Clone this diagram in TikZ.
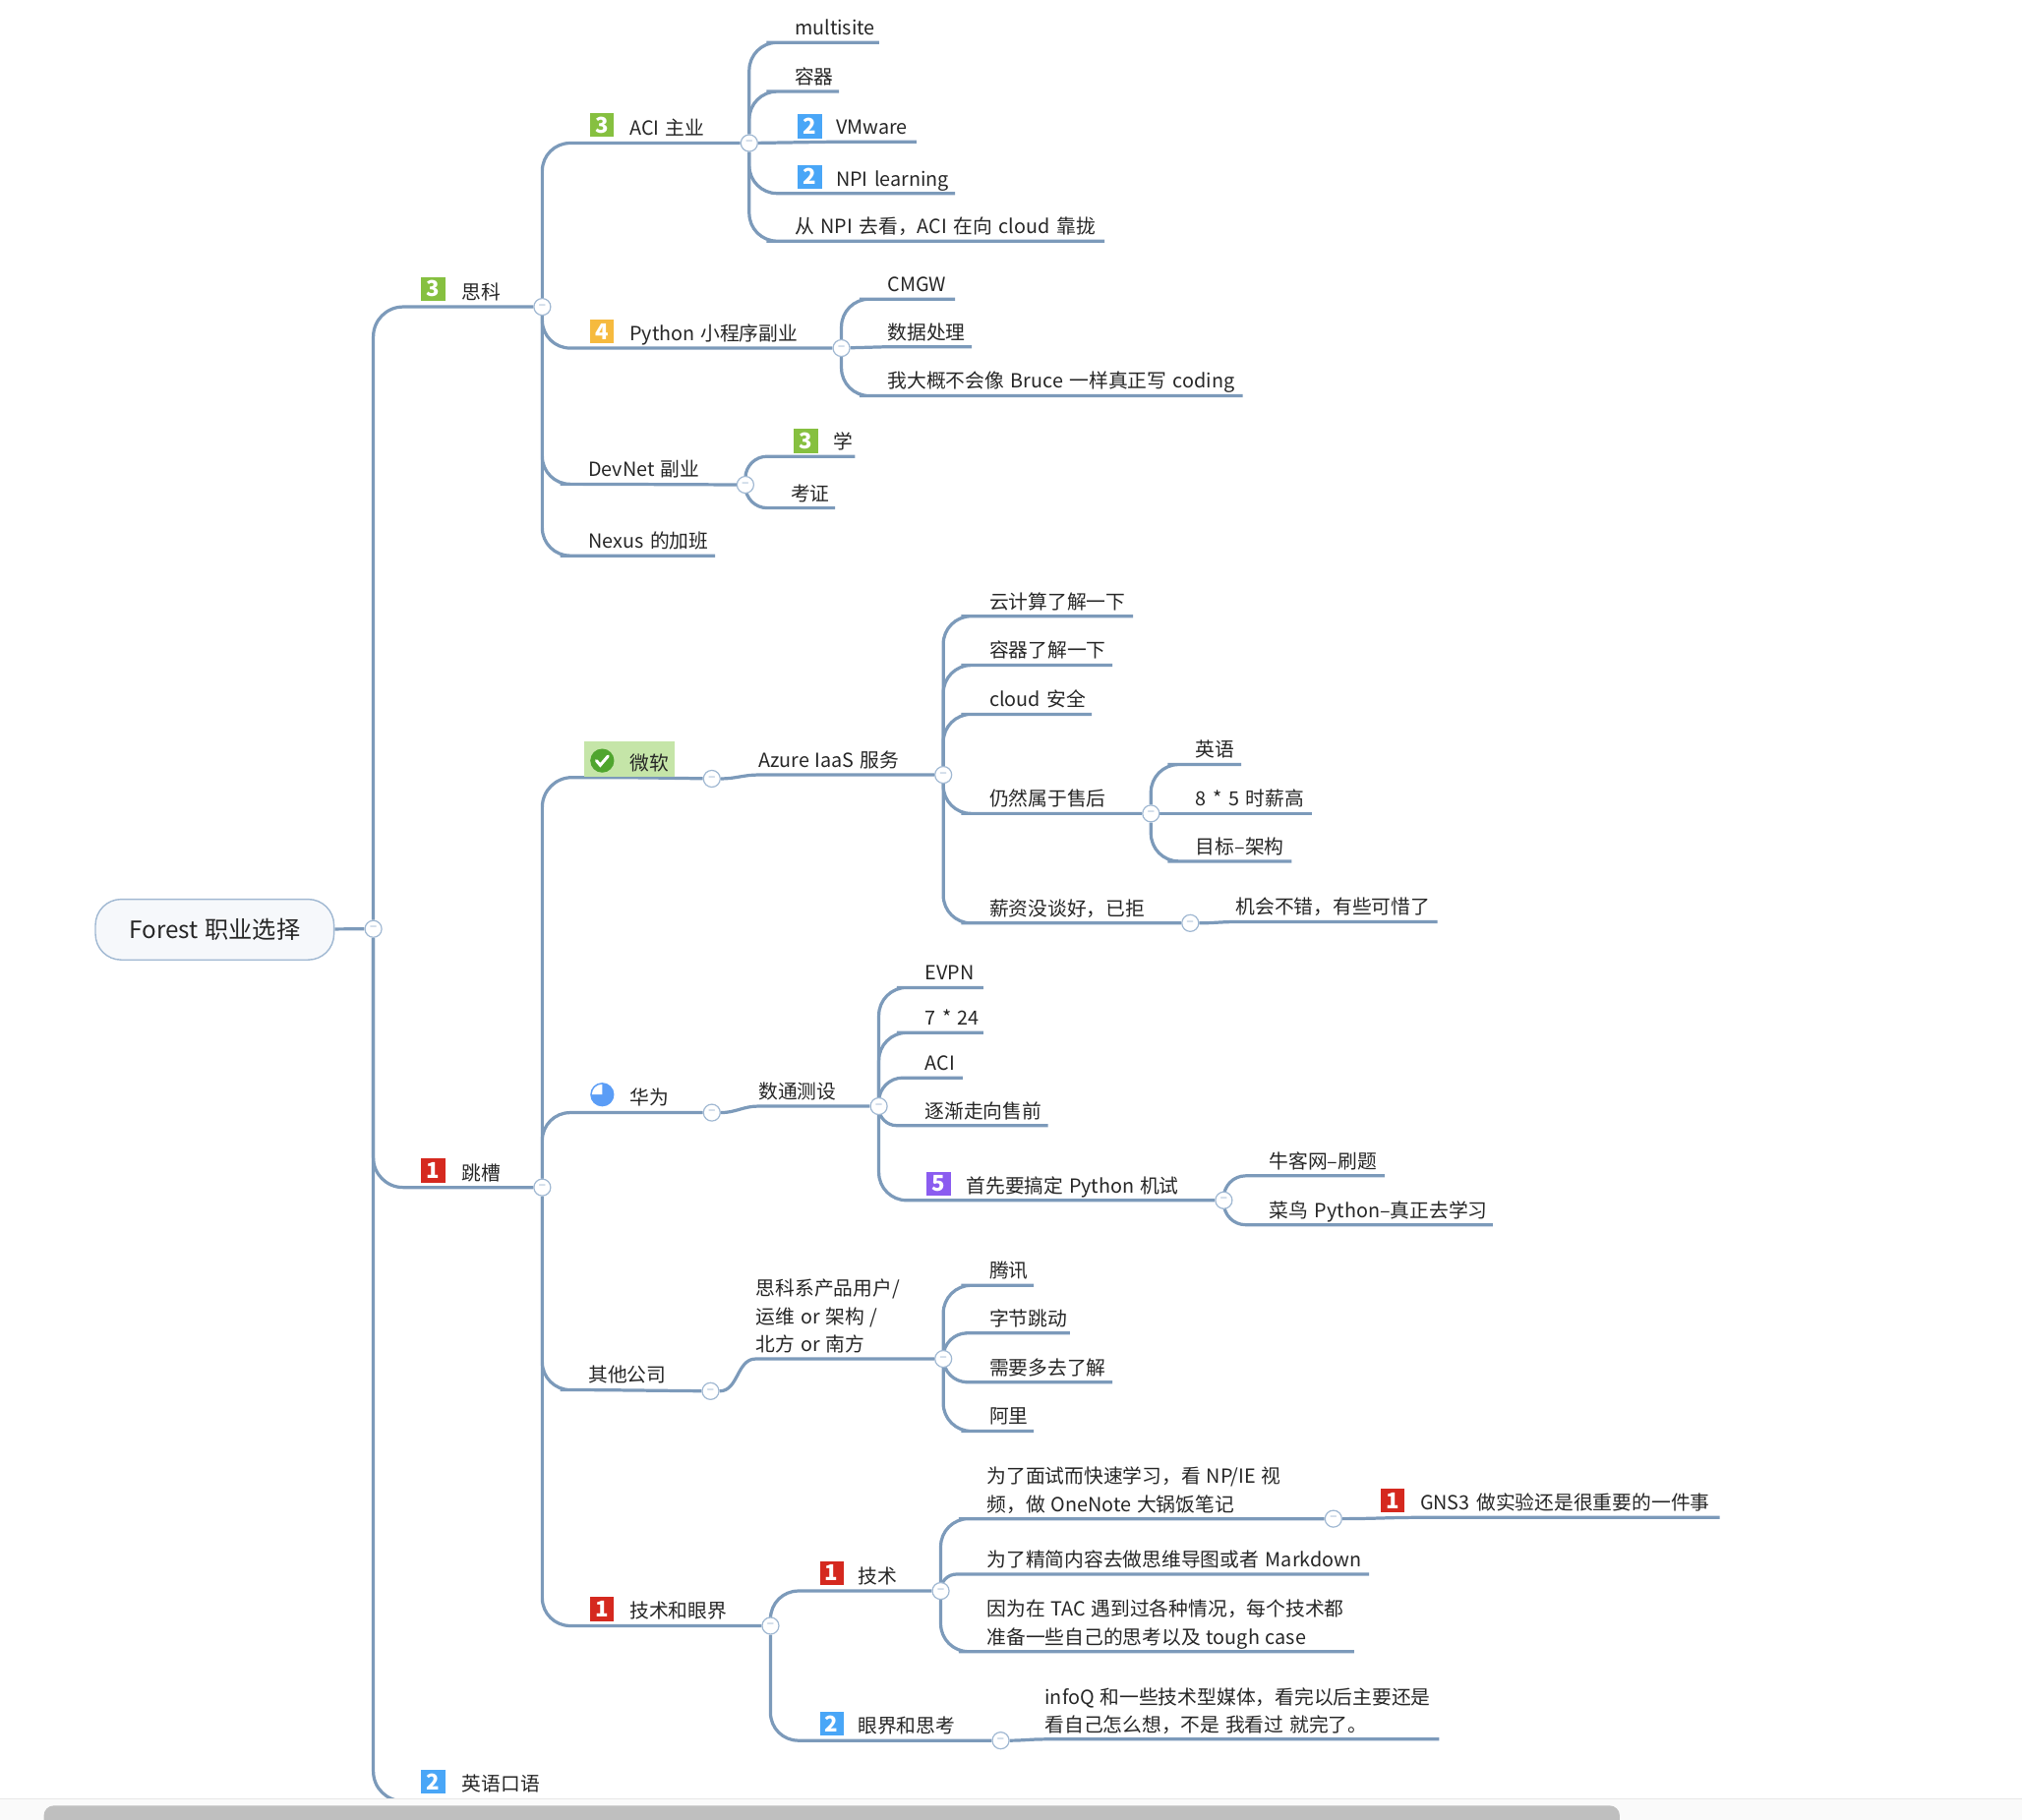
\documentclass[tikz,border=0pt]{standalone}
\usepackage{fontspec}
\setmainfont[WordSpace=1.3]{Noto Sans CJK SC}
\usepackage{xcolor}
\usetikzlibrary{positioning,backgrounds}
\definecolor{linecol}{HTML}{7C9ABA}
\definecolor{hubcol}{HTML}{A0B8D2}
\definecolor{rootfill}{HTML}{F6F8FB}
\definecolor{txtcol}{HTML}{262626}
\definecolor{prioone}{HTML}{D5291F}
\definecolor{priotwo}{HTML}{49A6F7}
\definecolor{priothree}{HTML}{86C040}
\definecolor{priofour}{HTML}{F6BA3E}
\definecolor{priofive}{HTML}{8B5CF0}
\definecolor{msfill}{HTML}{C5E5A8}
\definecolor{mscheck}{HTML}{4FA52E}
\definecolor{hwpie}{HTML}{5B9DF6}
\def\u{0.65pt}

\begin{document}
\begin{tikzpicture}[
    x=0.65pt, y=-0.65pt,
    root/.style={rectangle, draw=hubcol, line width=0.7pt, fill=rootfill, rounded corners=13pt, minimum width=185*\u, minimum height=47*\u, font=\fontsize{12}{14}\selectfont, text=txtcol},
    hub/.style={circle, draw=hubcol, line width=0.6pt, fill=white, minimum size=13*\u, inner sep=0pt, font=\fontsize{7}{7}\selectfont, text=hubcol},
    topic/.style={anchor=south west, inner sep=0pt, align=left, text depth=5.5*\u, font=\fontsize{9.8}{14}\selectfont, text=txtcol},
    prio/.style={rectangle, minimum size=18.5*\u, inner sep=0pt, text=white, font=\fontsize{11}{11}\selectfont\bfseries},
    branch/.style={draw=linecol, line width=1.6pt, rounded corners=14pt},
    mainline/.style={draw=linecol, line width=1.6pt}
]
    \useasboundingbox (0,0) rectangle (1568,1411);

    % 根节点
    \node[root] (root) at (166.5,721) {Forest 职业选择};

    % 折叠按钮
    \node[hub] (hubroot) at (289.5,720.5) {–};
    \node[hub] (hubcisco) at (420.5,238) {–};
    \node[hub] (hubaci) at (581,111) {–};
    \node[hub] (hubpython) at (652.5,270) {–};
    \node[hub] (hubdevnet) at (578,376) {–};
    \node[hub] (hubjump) at (420.5,921) {–};
    \node[hub] (hubms) at (552,604) {–};
    \node[hub] (hubhw) at (552,863) {–};
    \node[hub] (hubother) at (551,1079) {–};
    \node[hub] (hubtech) at (597.5,1261) {–};
    \node[hub] (hubazure) at (731.5,601) {–};
    \node[hub] (hubsales) at (892.5,631) {–};
    \node[hub] (hubsalary) at (923,716) {–};
    \node[hub] (hubdc) at (681.5,858) {–};
    \node[hub] (hubexam) at (949,931) {–};
    \node[hub] (hubuser) at (731.5,1054) {–};
    \node[hub] (hubskill) at (729.5,1234) {–};
    \node[hub] (hubview) at (776,1350) {–};
    \node[hub] (hubnote) at (1034,1178) {–};

    % 微软底色
    \fill[msfill] (453,575) rectangle (523,602.5);

    % 第一层
    \node[topic] (cisco) at (358,238) {思科};
    \node[topic] (jump) at (358,921) {跳槽};
    \node[topic, text width=70*\u] (english) at (358,1395) {英语口语};

    % 思科
    \node[topic] (aci) at (488,111) {ACI 主业};
    \node[topic] (python) at (488,270) {Python 小程序副业};
    \node[topic] (devnet) at (456,375.5) {DevNet 副业};
    \node[topic, text width=98*\u] (nexus) at (456,431) {Nexus 的加班};
    \node[topic, text width=65*\u] (multisite) at (616,33) {multisite};
    \node[topic, text width=34*\u] (container) at (616,71) {容器};
    \node[topic, text width=62*\u] (vmware) at (648,110) {VMware};
    \node[topic, text width=92*\u] (npi) at (648,150) {NPI learning};
    \node[topic, text width=240*\u] (cloud) at (616,187) {从 NPI 去看，ACI 在向 cloud 靠拢};
    \node[topic, text width=52*\u] (cmgw) at (688,232) {CMGW};
    \node[topic, text width=65*\u] (data) at (688,269) {数据处理};
    \node[topic, text width=275*\u] (bruce) at (688,307) {我大概不会像 Bruce 一样真正写 coding};
    \node[topic, text width=16*\u] (learn) at (646,354) {学};
    \node[topic, text width=34*\u] (cert) at (613,394) {考证};

    % 微软
    \node[topic] (ms) at (488,603) {微软};
    \node[topic] (azure) at (588,601) {Azure IaaS 服务};
    \node[topic, text width=111*\u] (cc) at (767,478) {云计算了解一下};
    \node[topic, text width=95*\u] (cont) at (767,516) {容器了解一下};
    \node[topic, text width=79*\u] (safe) at (767,554) {cloud 安全};
    \node[topic] (sales) at (767,631) {仍然属于售后};
    \node[topic] (salary) at (767,716) {薪资没谈好，已拒};
    \node[topic, text width=35*\u] (eng) at (927,593) {英语};
    \node[topic, text width=90*\u] (pay) at (927,631) {8 * 5 时薪高};
    \node[topic, text width=74*\u] (arch) at (927,668) {目标–架构};
    \node[topic, text width=156*\u] (pity) at (958,715) {机会不错，有些可惜了};

    % 华为
    \node[topic] (hw) at (488,863) {华为};
    \node[topic] (dc) at (588,858) {数通测设};
    \node[topic, text width=45*\u] (evpn) at (717,766) {EVPN};
    \node[topic, text width=45*\u] (shift) at (717,801) {7 * 24};
    \node[topic, text width=29*\u] (acib) at (717,836) {ACI};
    \node[topic, text width=95*\u] (presale) at (717,873) {逐渐走向售前};
    \node[topic] (exam) at (749,931) {首先要搞定 Python 机试};
    \node[topic, text width=89*\u] (nowcoder) at (984,912) {牛客网–刷题};
    \node[topic, text width=173*\u] (runoob) at (984,950) {菜鸟 Python–真正去学习};

    % 其他公司
    \node[topic] (other) at (456,1078) {其他公司};
    \node[topic] (user) at (586,1054) {思科系产品用户/\\运维 or 架构 /\\北方 or 南方};
    \node[topic, text width=34*\u] (tencent) at (767,997) {腾讯};
    \node[topic, text width=62*\u] (bytedance) at (767,1034) {字节跳动};
    \node[topic, text width=95*\u] (more) at (767,1072) {需要多去了解};
    \node[topic, text width=34*\u] (ali) at (767,1110) {阿里};

    % 技术和眼界
    \node[topic] (tech) at (488,1261) {技术和眼界};
    \node[topic] (skill) at (665,1234) {技术};
    \node[topic] (view) at (665,1350) {眼界和思考};
    \node[topic] (note) at (765,1178) {为了面试而快速学习，看 NP/IE 视\\频，做 OneNote 大锅饭笔记};
    \node[topic, text width=296*\u] (mind) at (765,1221) {为了精简内容去做思维导图或者 Markdown};
    \node[topic] (tac) at (765,1281) {因为在 TAC 遇到过各种情况，每个技术都\\准备一些自己的思考以及 tough case};
    \node[topic, text width=232*\u] (gns) at (1101,1177) {GNS3 做实验还是很重要的一件事};
    \node[topic] (infoq) at (810,1349) {infoQ 和一些技术型媒体，看完以后主要还是\\看自己怎么想，不是 我看过 就完了。};
    \coordinate (tacend) at (1050,1281);
    \coordinate (infoqend) at (1116,1349);

    % 优先级图标
    \node[prio, fill=priothree] (pcisco) at (336,224) {3};
    \node[prio, fill=prioone] (pjump) at (336,908) {1};
    \node[prio, fill=priotwo] (penglish) at (336,1382) {2};
    \node[prio, fill=priothree] (paci) at (467,97) {3};
    \node[prio, fill=priofour] (ppython) at (467,257) {4};
    \node[prio, fill=priotwo] (pvmware) at (628,98) {2};
    \node[prio, fill=priotwo] (pnpi) at (628,137) {2};
    \node[prio, fill=priothree] (plearn) at (625,342) {3};
    \node[prio, fill=priofive] (pexam) at (728,918) {5};
    \node[prio, fill=prioone] (ptech) at (467,1248) {1};
    \node[prio, fill=prioone] (pskill) at (645,1220) {1};
    \node[prio, fill=priotwo] (pview) at (645,1337) {2};
    \node[prio, fill=prioone] (pgns) at (1080,1164) {1};

    % 微软和华为的图标
    \node[circle, fill=mscheck, minimum size=18.5*\u, inner sep=0pt] (pms) at (467,590) {};
    \draw[white, line width=1.5pt, line cap=round] (pms.center) ++(-4.5,0) -- ++(3,3.5) -- ++(6,-7);
    \node[circle, fill=hwpie, minimum size=18.5*\u, inner sep=0pt] (phw) at (467,849) {};
    \fill[white] (phw.center) -- ++(0,-8) arc[start angle=90, end angle=180, radius=8*\u] -- cycle;

    % 连线
    \begin{scope}[on background layer]
        \draw[mainline] (root) -- (hubroot);
        \draw[branch, rounded corners=15pt] (hubroot) |- (cisco.south west) -- (hubcisco);
        \draw[branch, rounded corners=15pt] (hubroot) |- (jump.south west) -- (hubjump);
        \draw[branch, rounded corners=15pt] (hubroot) |- ([yshift=-1.3pt]english.south west) -- ([yshift=-1.3pt]english.south east);

        \draw[branch] (hubcisco) |- (aci.south west) -- (hubaci);
        \draw[branch] (hubcisco) |- (python.south west) -- (hubpython);
        \draw[branch] (hubcisco) |- (devnet.south west) -- (hubdevnet);
        \draw[branch] (hubcisco) |- (nexus.south west) -- (nexus.south east);

        \draw[branch] (hubaci) |- (multisite.south west) -- (multisite.south east);
        \draw[branch] (hubaci) |- (container.south west) -- (container.south east);
        \draw[mainline] (hubaci) -- (vmware.south west) -- (vmware.south east);
        \draw[branch] (hubaci) |- (npi.south west) -- (npi.south east);
        \draw[branch] (hubaci) |- (cloud.south west) -- (cloud.south east);

        \draw[branch] (hubpython) |- (cmgw.south west) -- (cmgw.south east);
        \draw[mainline] (hubpython) -- (data.south west) -- (data.south east);
        \draw[branch] (hubpython) |- (bruce.south west) -- (bruce.south east);

        \draw[branch, rounded corners=11pt] (hubdevnet) |- (learn.south west) -- (learn.south east);
        \draw[branch, rounded corners=11pt] (hubdevnet) |- (cert.south west) -- (cert.south east);

        \draw[branch, rounded corners=15pt] (hubjump) |- (ms.south west) -- (hubms);
        \draw[branch] (hubjump) |- (hw.south west) -- (hubhw);
        \draw[branch] (hubjump) |- (other.south west) -- (hubother);
        \draw[branch] (hubjump) |- (tech.south west) -- (hubtech);

        \draw[mainline] (hubms) to[out=0, in=180] (azure.south west) -- (hubazure);
        \draw[branch] (hubazure) |- (cc.south west) -- (cc.south east);
        \draw[branch] (hubazure) |- (cont.south west) -- (cont.south east);
        \draw[branch] (hubazure) |- (safe.south west) -- (safe.south east);
        \draw[branch] (hubazure) |- (sales.south west) -- (hubsales);
        \draw[branch] (hubazure) |- (salary.south west) -- (hubsalary);
        \draw[branch] (hubsales) |- (eng.south west) -- (eng.south east);
        \draw[mainline] (hubsales) -- (pay.south west) -- (pay.south east);
        \draw[branch] (hubsales) |- (arch.south west) -- (arch.south east);
        \draw[mainline] (hubsalary) to[out=0, in=180] (pity.south west) -- (pity.south east);

        \draw[mainline] (hubhw) to[out=0, in=180] (dc.south west) -- (hubdc);
        \draw[branch] (hubdc) |- (evpn.south west) -- (evpn.south east);
        \draw[branch] (hubdc) |- (shift.south west) -- (shift.south east);
        \draw[branch, rounded corners=12pt] (hubdc) |- (acib.south west) -- (acib.south east);
        \draw[branch, rounded corners=9pt] (hubdc) |- (presale.south west) -- (presale.south east);
        \draw[branch] (hubdc) |- (exam.south west) -- (hubexam);
        \draw[branch, rounded corners=11pt] (hubexam) |- (nowcoder.south west) -- (nowcoder.south east);
        \draw[branch, rounded corners=11pt] (hubexam) |- (runoob.south west) -- (runoob.south east);

        \draw[mainline] (hubother) to[out=0, in=180] (user.south west) -- (hubuser);
        \draw[branch] (hubuser) |- (tencent.south west) -- (tencent.south east);
        \draw[branch, rounded corners=12pt] (hubuser) |- (bytedance.south west) -- (bytedance.south east);
        \draw[branch, rounded corners=12pt] (hubuser) |- (more.south west) -- (more.south east);
        \draw[branch] (hubuser) |- (ali.south west) -- (ali.south east);

        \draw[branch] (hubtech) |- (skill.south west) -- (hubskill);
        \draw[branch] (hubtech) |- (view.south west) -- (hubview);
        \draw[branch] (hubskill) |- (note.south west) -- (hubnote);
        \draw[branch, rounded corners=8pt] (hubskill) |- (mind.south west) -- (mind.south east);
        \draw[branch] (hubskill) |- (tac.south west) -- (tacend);
        \draw[mainline] (hubnote) to[out=0, in=180] (gns.south west) -- (gns.south east);
        \draw[mainline] (hubview) to[out=0, in=180] (infoq.south west) -- (infoqend);
    \end{scope}

    % 滚动条
    \fill[black!2] (0,1394.5) rectangle (1568,1420);
    \fill[black!9] (0,1394.5) rectangle (1568,1396);
    \fill[black!25, rounded corners=5pt] (34,1400.5) rectangle (1256,1425);
\end{tikzpicture}
\end{document}
